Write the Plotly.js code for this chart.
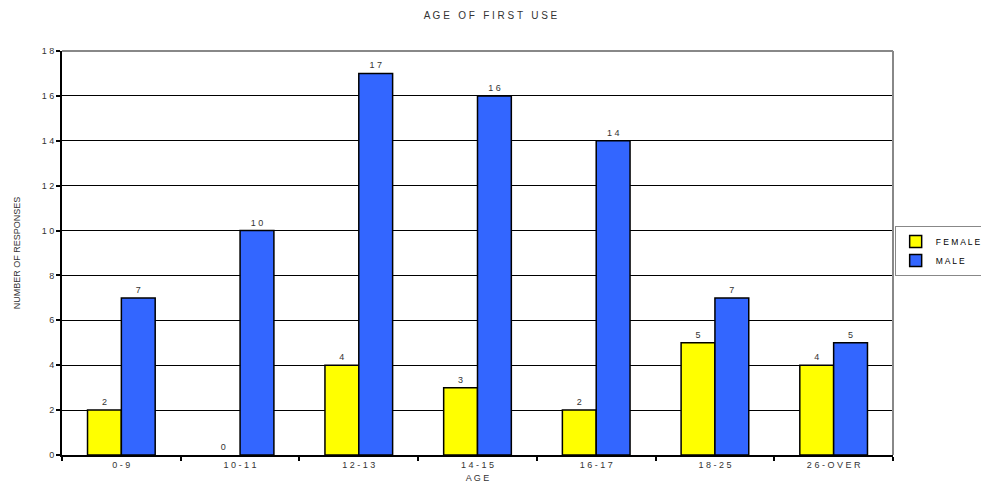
<!DOCTYPE html>
<html>
<head>
<meta charset="utf-8">
<script src="https://cdn.plot.ly/plotly-3.0.1.min.js"></script>
<style>html,body{margin:0;padding:0;background:#fff;}#chart{width:981px;height:490px;}</style>
</head>
<body>
<div id="chart"></div>
<script>
const categories = ["0 - 9", "1 0 - 1 1", "1 2 - 1 3", "1 4 - 1 5", "1 6 - 1 7", "1 8 - 2 5", "2 6 - O V E R"];
const femaleValues = [2, 0, 4, 3, 2, 5, 4];
const maleValues = [7, 10, 17, 16, 14, 7, 5];
const yTickVals = [0, 2, 4, 6, 8, 10, 12, 14, 16, 18];
const yTickText = ["0", "2", "4", "6", "8", "1 0", "1 2", "1 4", "1 6", "1 8"];

function spaced(n){ return String(n).split("").join(" "); }
function outline(vals){ return vals.map(v => v === 0 ? 0 : 1.5); }

const font = "Liberation Sans, Arial, sans-serif";
const traces = [
  {
    type: "bar", name: "F E M A L E", x: categories, y: femaleValues,
    text: femaleValues.map(spaced), textposition: "outside", cliponaxis: false,
    textfont: {family: font, size: 9, color: "#333"},
    marker: {color: "#ffff00", line: {color: "#000", width: outline(femaleValues)}}
  },
  {
    type: "bar", name: "M A L E", x: categories, y: maleValues,
    text: maleValues.map(spaced), textposition: "outside", cliponaxis: false,
    textfont: {family: font, size: 9, color: "#333"},
    marker: {color: "#3366ff", line: {color: "#000", width: outline(maleValues)}}
  }
];
const layout = {
  width: 981, height: 490,
  margin: {l: 62, r: 88, t: 51, b: 35, autoexpand: false},
  paper_bgcolor: "#fff", plot_bgcolor: "#fff",
  font: {family: font, size: 9, color: "#333"},
  title: {text: "A G E   O F   F I R S T   U S E", x: 0.5, xanchor: "center", y: 0.975, yanchor: "top",
          font: {family: font, size: 10, color: "#333"}},
  barmode: "group", bargap: 0.43, bargroupgap: 0,
  showlegend: true,
  legend: {x: 1.002, xanchor: "left", y: 0.505, yanchor: "middle", bordercolor: "#888", borderwidth: 1,
           font: {family: font, size: 8.5, color: "#000"}, bgcolor: "#fff", itemwidth: 30, tracegroupgap: 0},
  xaxis: {
    type: "category", tickson: "boundaries", ticks: "outside", ticklen: 4, tickwidth: 2, tickcolor: "#000",
    showline: true, linecolor: "#000", linewidth: 2, showgrid: false,
    tickfont: {family: font, size: 9, color: "#333"},
    title: {text: "A G E", font: {family: font, size: 9, color: "#333"}, standoff: 6}
  },
  yaxis: {
    range: [0, 18], tickvals: yTickVals, ticktext: yTickText,
    ticks: "outside", ticklen: 4, tickwidth: 2, tickcolor: "#000",
    showline: true, linecolor: "#000", linewidth: 2,
    showgrid: true, gridcolor: "#000", gridwidth: 1, zeroline: false,
    tickfont: {family: font, size: 9, color: "#333"},
    title: {text: "NUMBER OF RESPONSES", font: {family: font, size: 9, color: "#333"}, standoff: 20}
  },
  shapes: [
    {type: "line", xref: "paper", yref: "paper", x0: 0, x1: 1, y0: 1, y1: 1, line: {color: "#888", width: 2}},
    {type: "line", xref: "paper", yref: "paper", x0: 1, x1: 1, y0: 0, y1: 1, line: {color: "#888", width: 2}}
  ]
};
Plotly.newPlot("chart", traces, layout, {displayModeBar: false, staticPlot: true});
</script>
</body>
</html>
